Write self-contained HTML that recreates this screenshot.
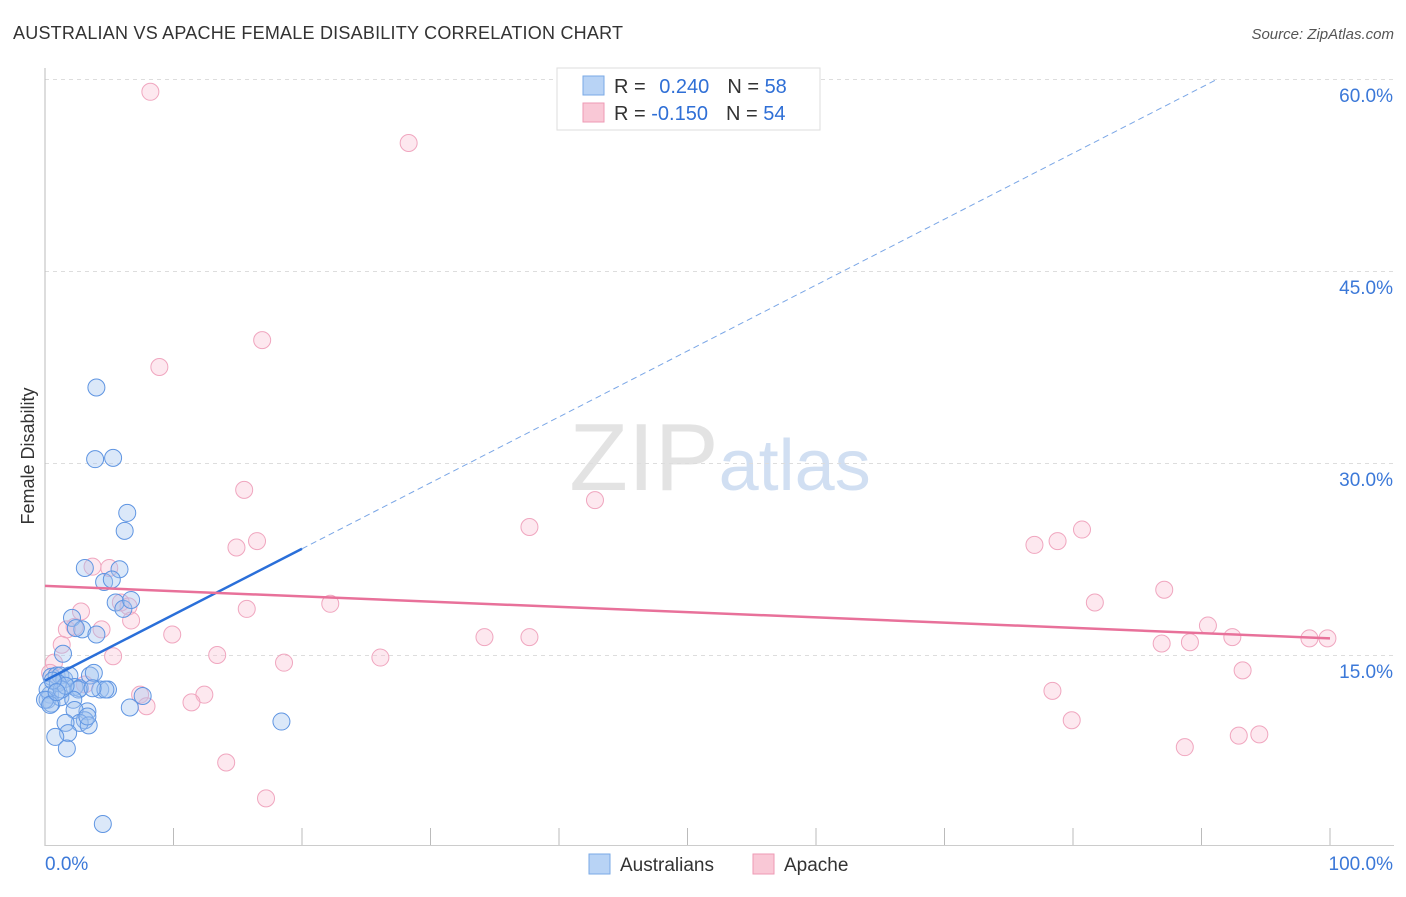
<!DOCTYPE html>
<html><head><meta charset="utf-8"><style>
body{margin:0;background:#fff;font-family:"Liberation Sans",sans-serif;}
svg text{font-family:"Liberation Sans",sans-serif;}
</style></head><body>
<svg id="chart" width="1406" height="892" xmlns="http://www.w3.org/2000/svg">
<text x="13" y="39" font-size="18" fill="#333" textLength="610">AUSTRALIAN VS APACHE FEMALE DISABILITY CORRELATION CHART</text>
<text x="1394" y="39" font-size="15" fill="#555" text-anchor="end" font-style="italic">Source: ZipAtlas.com</text>
<text transform="translate(34,456) rotate(-90)" font-size="18" fill="#333" text-anchor="middle">Female Disability</text>
<text x="720" y="490" font-size="96" text-anchor="middle" font-family="Liberation Serif" fill="#ddd" opacity="0.8">ZIP<tspan fill="#c6d8f0" font-family="Liberation Sans" font-size="72">atlas</tspan></text>
<g id="grid"></g><g id="marks"></g>
<g>
<rect x="557" y="68" width="263" height="62" fill="#fff" stroke="#ddd"/>
<rect x="583" y="76" width="21" height="19" fill="#b8d3f5" stroke="#7aa9e6"/>
<rect x="583" y="103" width="21" height="19" fill="#f9c8d6" stroke="#ee9ab4"/>
<text x="614" y="93" font-size="20" fill="#333">R = <tspan fill="#2f6fd6" dx="8">0.240</tspan><tspan fill="#333" dx="18">N = </tspan><tspan fill="#2f6fd6">58</tspan></text>
<text x="614" y="120" font-size="20" fill="#333">R = <tspan fill="#2f6fd6">-0.150</tspan><tspan fill="#333" dx="18">N = </tspan><tspan fill="#2f6fd6">54</tspan></text>
</g>
<g>
<rect x="589" y="854" width="21" height="20" fill="#b8d3f5" stroke="#7aa9e6"/>
<text x="620" y="871" font-size="19" fill="#333">Australians</text>
<rect x="753" y="854" width="21" height="20" fill="#f9c8d6" stroke="#ee9ab4"/>
<text x="784" y="871" font-size="19" fill="#333">Apache</text>
</g>
</svg>
<script>
const yTicks=[15,30,45,60];
const yTickLabels=["15.0%","30.0%","45.0%","60.0%"];
const xTicks=[0,10,20,30,40,50,60,70,80,90,100];
const ausX=[4.0,3.9,5.3,6.4,6.2,3.1,5.8,4.6,5.2,5.5,6.1,6.7,2.1,2.9,2.4,4.0,1.4,0.5,0.9,1.2,1.5,1.9,2.3,2.7,2.6,3.5,3.8,4.3,4.9,4.7,0.4,0.2,0.5,1.2,2.2,3.3,2.3,3.1,2.7,1.6,1.8,3.4,0.8,1.7,6.6,7.6,18.4,4.5,0.2,1.0,1.3,0.0,0.4,3.3,1.6,0.6,0.9,3.7];
const ausY=[35.9,30.3,30.4,26.1,24.7,21.8,21.7,20.7,20.9,19.1,18.6,19.3,17.9,17.0,17.1,16.6,15.1,13.3,13.4,13.4,13.1,13.4,12.5,12.4,12.3,13.4,13.6,12.3,12.3,12.3,11.9,11.5,11.2,11.7,11.5,10.6,10.7,9.9,9.7,9.7,8.9,9.5,8.6,7.7,10.9,11.8,9.8,1.8,12.3,12.8,12.3,11.5,11.1,10.2,12.6,13.0,12.1,12.4];
const apaX=[8.2,28.3,16.9,8.9,15.5,42.8,37.7,16.5,14.9,80.7,78.8,77.0,3.7,5.0,87.1,81.7,22.2,15.7,5.9,6.5,2.8,6.7,2.3,1.7,4.4,9.9,34.2,37.7,90.5,92.4,86.9,89.1,98.4,99.8,1.3,13.4,5.3,0.7,0.4,26.1,18.6,93.2,7.4,3.1,12.4,11.4,7.9,78.4,79.9,94.5,92.9,88.7,14.1,17.2];
const apaY=[59.0,55.0,39.6,37.5,27.9,27.1,25.0,23.9,23.4,24.8,23.9,23.6,21.9,21.8,20.1,19.1,19.0,18.6,19.1,18.8,18.4,17.7,17.2,17.0,17.0,16.6,16.4,16.4,17.3,16.4,15.9,16.0,16.3,16.3,15.8,15.0,14.9,14.4,13.6,14.8,14.4,13.8,11.9,12.7,11.9,11.3,11.0,12.2,9.9,8.8,8.7,7.8,6.6,3.8];
const ausTrend=[13.0,0.515];
const apaTrend=[20.4,-0.041];
const X=v=>45+12.85*v, Y=v=>847-12.8*v;
const NS="http://www.w3.org/2000/svg";
const grid=document.getElementById('grid'),marks=document.getElementById('marks');
function mk(tag,attrs,parent){const e=document.createElementNS(NS,tag);for(const k in attrs)e.setAttribute(k,attrs[k]);parent.appendChild(e);return e;}
yTicks.forEach((t,i)=>{
 const l=mk('line',{x1:45,x2:1394,y1:Y(t)+0.5,y2:Y(t)+0.5,stroke:'#ddd','stroke-dasharray':'4,4'},grid);
 
 
 const tx=mk('text',{x:1393,y:Y(t)+23,'font-size':19,fill:'#3b78d8','text-anchor':'end'},grid);
 tx.textContent=yTickLabels[i];
 
 
});
const ax=mk('line',{x1:45,x2:45,y1:68,y2:846,stroke:'#bbb'},grid);


const bx=mk('line',{x1:45,x2:1394,y1:845.5,y2:845.5,stroke:'#ccc'},grid);


xTicks.forEach(t=>{const l=mk('line',{x1:X(t),x2:X(t),y1:828,y2:845,stroke:'#bbb'},grid);
 
 });
const xl0=mk('text',{x:45,y:870,'font-size':19,fill:'#3b78d8'},grid);xl0.textContent='0.0%';


const xl1=mk('text',{x:1393,y:870,'font-size':19,fill:'#3b78d8','text-anchor':'end'},grid);xl1.textContent='100.0%';


apaX.forEach((v,i)=>{const c=mk('circle',{cx:X(v),cy:Y(apaY[i]),r:8.5,fill:'rgba(248,190,208,0.35)',stroke:'#f0a6bf','stroke-width':1},marks);
 
 });
ausX.forEach((v,i)=>{const c=mk('circle',{cx:X(v),cy:Y(ausY[i]),r:8.5,fill:'rgba(160,195,240,0.38)',stroke:'#5f95e2','stroke-width':1},marks);
 
 });
const bt=mk('line',{x1:X(0),y1:Y(ausTrend[0]),x2:X(20),y2:Y(ausTrend[0]+20*ausTrend[1]),stroke:'#2a6fd9','stroke-width':2.5},marks);


const xe=(60.0-ausTrend[0])/ausTrend[1];
const bd=mk('line',{x1:X(20),y1:Y(ausTrend[0]+20*ausTrend[1]),x2:X(xe),y2:Y(60.0),stroke:'#7aa6e6','stroke-width':1,'stroke-dasharray':'6,4'},marks);


const pt=mk('line',{x1:X(0),y1:Y(apaTrend[0]),x2:X(100),y2:Y(apaTrend[0]+100*apaTrend[1]),stroke:'#e8719a','stroke-width':2.5},marks);


</script>
</body></html>
